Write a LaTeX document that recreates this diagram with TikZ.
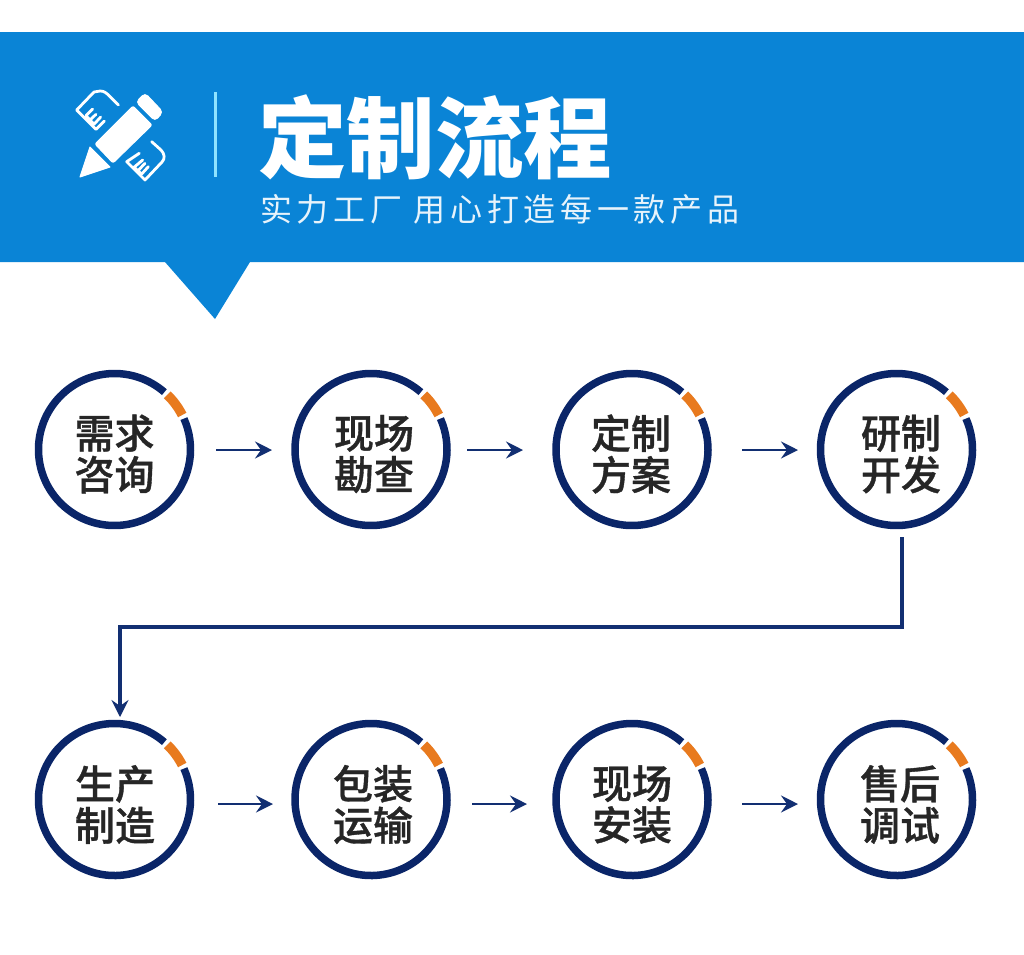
\documentclass[tikz,border=0pt]{standalone}
\usepackage{fontspec}
\newfontfamily\cjk{Noto Sans CJK SC}
\newfontfamily\cjkm[FakeBold=0.9]{Noto Sans CJK SC Medium}
\newfontfamily\cjksp[LetterSpace=14.5]{Noto Sans CJK SC}
\definecolor{bannerblue}{HTML}{0A84D6}
\definecolor{ringblue}{HTML}{0A2568}
\definecolor{arrowblue}{HTML}{122F72}
\definecolor{ringorange}{HTML}{E87A1E}
\definecolor{divider}{HTML}{8FE3FF}
\definecolor{labeltext}{HTML}{262626}
\usetikzlibrary{arrows.meta}
\tikzset{
  stage/.style={inner sep=0pt,align=center,text=labeltext,
    font=\fontsize{40}{41.5}\selectfont\cjkm},
  flow/.style={draw=arrowblue,line width=2.8pt,-{Stealth[length=17pt,width=17pt,inset=6pt]}},
  icon/.style={fill=white,draw=white,line width=1pt,line join=round},
  iconline/.style={draw=white,line width=2.8pt,line join=round,line cap=round},
  ringline/.style={draw=ringblue,line width=7.5pt},
  ringmark/.style={draw=ringorange,line width=9.5pt},
}
\newcommand{\stagering}[1]{
  \draw[ringline] (#1)+(49:76pt) arc[start angle=49,end angle=384,radius=76pt];
  \draw[ringmark] (#1)+(27:76pt) arc[start angle=27,end angle=46,radius=76pt];
}
\begin{document}
\begin{tikzpicture}[x=1pt,y=-1pt]
\useasboundingbox (0,0) rectangle (1024,954);
\fill[white] (0,0) rectangle (1024,954);
\fill[bannerblue] (0,32) -- (1024,32) -- (1024,262) -- (250,262) -- (215,319) -- (165,262) -- (0,262) -- cycle;
% icon
\fill[icon,rounded corners=2pt] (95,144) -- (133,106) -- (152,125) -- (113,163) -- cycle;
\fill[icon,rounded corners=4pt] (136,102) -- (145,93) -- (163,112) -- (155,121) -- cycle;
\fill[icon] (90,147) -- (110,167) -- (80,177) -- cycle;
\draw[iconline] (118.5,105) -- (110,96.7) .. controls (106,92.5) and (104,91) .. (100,91) -- (94,92) -- (76.7,110) -- (96,129.3) -- (104.3,121);
\draw[iconline] (92.7,109) -- (86,115.7) -- (94,124.3) -- (100.7,117) (90,120) -- (96,114.3);
\draw[iconline] (151.7,141.7) -- (161,150) .. controls (165,154) and (165,159) .. (162,162) -- (145,180) -- (126.7,161.7) -- (139.3,153.3);
\draw[iconline] (142.7,160) -- (134,167.3) -- (141.7,174) -- (148.3,166.7) (138,170.7) -- (145,163.3);
\draw[divider,line width=2.2pt] (215.5,92) -- (215.5,177);
\node[inner sep=0pt,text=white,font=\fontsize{88.5}{90}\selectfont\cjk\bfseries] (title) at (435,137) {定制流程};
\node[inner sep=0pt,anchor=west,text=white!90!bannerblue,font=\fontsize{32}{34}\selectfont\cjksp] (subtitle) at (260,209) {实力工厂 用心打造每一款产品};
% ring centres
\coordinate (r1) at (114.5,449.5);
\coordinate (r2) at (371,449.5);
\coordinate (r3) at (632,449.5);
\coordinate (r4) at (896.5,449.5);
\coordinate (r5) at (114.5,799.5);
\coordinate (r6) at (371,799.5);
\coordinate (r7) at (632,799.5);
\coordinate (r8) at (896.5,799.5);
\foreach \n in {r1,r2,r3,r4,r5,r6,r7,r8} {\stagering{\n}}
% stages
\node[stage] (a1) at (114.5,454) {需求\\咨询};
\node[stage] (a2) at (374,454) {现场\\勘查};
\node[stage] (a3) at (631,454) {定制\\方案};
\node[stage] (a4) at (901,454) {研制\\开发};
\node[stage] (b1) at (115,804.5) {生产\\制造};
\node[stage] (b2) at (373,804.5) {包装\\运输};
\node[stage] (b3) at (632,804.5) {现场\\安装};
\node[stage] (b4) at (900,804.5) {售后\\调试};
% connectors
\coordinate (a12s) at (216,450); \coordinate (a12e) at (272,450);
\coordinate (a23s) at (467,450); \coordinate (a23e) at (523,450);
\coordinate (a34s) at (742,450); \coordinate (a34e) at (798,450);
\coordinate (b12s) at (218,804); \coordinate (b12e) at (273,804);
\coordinate (b23s) at (472,804); \coordinate (b23e) at (527,804);
\coordinate (b34s) at (742,804); \coordinate (b34e) at (798,804);
\coordinate (downs) at (902,537); \coordinate (downm) at (902,627);
\coordinate (downn) at (120,627); \coordinate (downe) at (120,717);
\draw[flow] (a12s) -- (a12e);
\draw[flow] (a23s) -- (a23e);
\draw[flow] (a34s) -- (a34e);
\draw[flow] (b12s) -- (b12e);
\draw[flow] (b23s) -- (b23e);
\draw[flow] (b34s) -- (b34e);
\draw[flow,line width=3.4pt] (downs) -- (downm) -- (downn) -- (downe);
\end{tikzpicture}
\end{document}
